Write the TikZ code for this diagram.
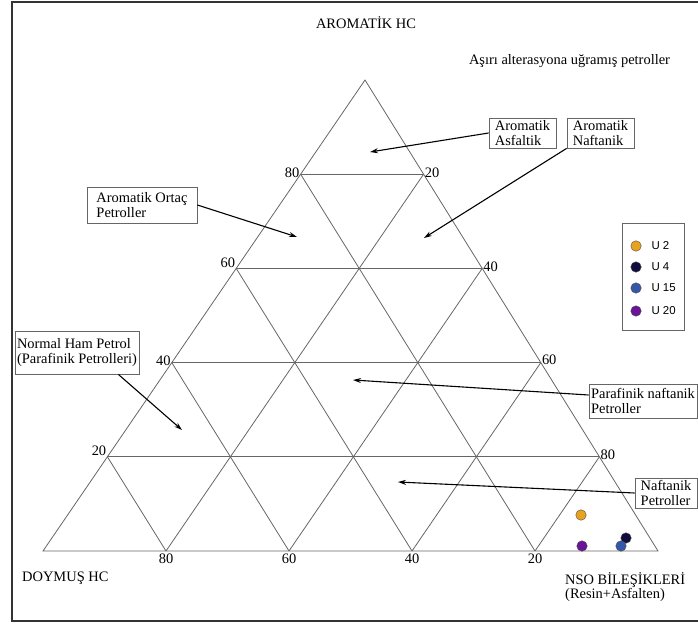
\documentclass[tikz,border=0pt]{standalone}
\usepackage{fontspec}
\setmainfont{Liberation Serif}
\newfontfamily\legendfont{Liberation Sans}
\usetikzlibrary{calc,arrows.meta}
\definecolor{ptorange}{HTML}{E8A21E}
\definecolor{ptnavy}{HTML}{100C3C}
\definecolor{ptblue}{HTML}{3457A8}
\definecolor{ptpurple}{HTML}{6A1598}
\begin{document}
\begin{tikzpicture}[x=1bp,y=-1bp,
    font=\fontsize{14.5}{15.5}\selectfont,
    gridline/.style={draw=black!60,line width=0.8bp},
    scalenum/.style={inner sep=1bp},
    labelbox/.style={draw=black!60,line width=0.8bp,align=left,inner sep=2bp},
    pointer/.style={line width=1.1bp,-{Stealth[length=8bp,width=5bp]}},
    sample/.style={circle,draw=black!70,line width=0.4bp,minimum size=10.5bp,inner sep=0pt},
    legendtext/.style={anchor=west,font=\legendfont\fontsize{11.5}{13}\selectfont}]
    \useasboundingbox (0,0) rectangle (698,628);
    \draw[line width=2bp,draw=black!80] (698,2) -- (12,2) -- (12,621) -- (698,621);
    \coordinate (D) at (43,551);
    \coordinate (N) at (658,551);
    \coordinate (Ar) at (365,80);
    \draw[gridline] (D) -- (N) -- (Ar) -- cycle;
    \draw[gridline] ($(D)!0.2!(Ar)$) -- ($(N)!0.2!(Ar)$);
    \draw[gridline] ($(D)!0.4!(Ar)$) -- ($(N)!0.4!(Ar)$);
    \draw[gridline] ($(D)!0.6!(Ar)$) -- ($(N)!0.6!(Ar)$);
    \draw[gridline] ($(D)!0.8!(Ar)$) -- ($(N)!0.8!(Ar)$);
    \draw[gridline] ($(D)!0.2!(N)$) -- ($(D)!0.2!(Ar)$);
    \draw[gridline] ($(D)!0.4!(N)$) -- ($(D)!0.4!(Ar)$);
    \draw[gridline] ($(D)!0.6!(N)$) -- ($(D)!0.6!(Ar)$);
    \draw[gridline] ($(D)!0.8!(N)$) -- ($(D)!0.8!(Ar)$);
    \draw[gridline] ($(N)!0.2!(D)$) -- ($(N)!0.2!(Ar)$);
    \draw[gridline] ($(N)!0.4!(D)$) -- ($(N)!0.4!(Ar)$);
    \draw[gridline] ($(N)!0.6!(D)$) -- ($(N)!0.6!(Ar)$);
    \draw[gridline] ($(N)!0.8!(D)$) -- ($(N)!0.8!(Ar)$);
    \node[scalenum,anchor=south east] (l20) at ($(D)!0.2!(Ar)$) {20};
    \node[scalenum,anchor=east,yshift=2bp] (l40) at ($(D)!0.4!(Ar)$) {40};
    \node[scalenum,anchor=south east] (l60) at ($(D)!0.6!(Ar)$) {60};
    \node[scalenum,anchor=east,yshift=1bp] (l80) at ($(D)!0.8!(Ar)$) {80};
    \node[scalenum,anchor=west,yshift=2bp] (r80) at ($(N)!0.2!(Ar)$) {80};
    \node[scalenum,anchor=west,yshift=3bp] (r60) at ($(N)!0.4!(Ar)$) {60};
    \node[scalenum,anchor=west,yshift=2bp] (r40) at ($(N)!0.6!(Ar)$) {40};
    \node[scalenum,anchor=west,yshift=1bp] (r20) at ($(N)!0.8!(Ar)$) {20};
    \node[scalenum,anchor=north,yshift=-2bp] (b80) at ($(D)!0.2!(N)$) {80};
    \node[scalenum,anchor=north,yshift=-2bp] (b60) at ($(D)!0.4!(N)$) {60};
    \node[scalenum,anchor=north,yshift=-2bp] (b40) at ($(D)!0.6!(N)$) {40};
    \node[scalenum,anchor=north,yshift=-2bp] (b20) at ($(D)!0.8!(N)$) {20};
    \node (aromhc) at (366,23) {AROMATİK HC};
    \node (alter) at (569.5,61) {Aşırı alterasyona uğramış petroller};
    \node[anchor=west,inner sep=0pt] (doymus) at (22,578) {DOYMUŞ HC};
    \node[anchor=west,inner sep=0pt] (nso) at (565,580) {NSO BİLEŞİKLERİ};
    \node[anchor=west,inner sep=0pt] (resin) at (565,595) {(Resin+Asfalten)};
    \node[labelbox,minimum width=67bp,minimum height=30bp] (asfaltik) at (522.5,133) {Aromatik\\Asfaltik};
    \node[labelbox,minimum width=67bp,minimum height=30bp] (naftarom) at (600.5,133) {Aromatik\\Naftanik};
    \node[labelbox,minimum width=110bp,minimum height=36bp] (ortac) at (142,205) {Aromatik Ortaç\\Petroller};
    \node[labelbox,minimum width=122bp,minimum height=43bp] (normal) at (77,352.5) {Normal Ham Petrol\\(Parafinik Petrolleri)};
    \node[labelbox,minimum width=108bp,minimum height=34bp] (parafinik) at (643,401) {Parafinik naftanik\\Petroller};
    \node[labelbox,minimum width=62bp,minimum height=30bp] (naftanik) at (666,493) {Naftanik\\Petroller};
    \coordinate (asfpt) at (370,152);
    \coordinate (naftpt) at (424,238);
    \coordinate (ortpt) at (297,237);
    \coordinate (normpt) at (182,430);
    \coordinate (parpt) at (353,380);
    \coordinate (naftnpt) at (398,482);
    \draw[pointer] (asfaltik.west) -- (asfpt);
    \draw[pointer] (naftarom.south west) -- (naftpt);
    \draw[pointer] (ortac.east) -- (ortpt);
    \draw[pointer] ([xshift=-21bp]normal.south east) -- (normpt);
    \draw[pointer] ([yshift=6bp]parafinik.west) -- (parpt);
    \draw[pointer] (naftanik.west) -- (naftnpt);
    \node[draw=black!60,line width=0.8bp,minimum width=62bp,minimum height=107bp] (legend) at (653,276.5) {};
    \node[sample,fill=ptorange] (k2) at (636,246) {};
    \node[sample,fill=ptnavy] (k4) at (636,267) {};
    \node[sample,fill=ptblue] (k15) at (636,288) {};
    \node[sample,fill=ptpurple] (k20) at (636,311) {};
    \node[legendtext] (t2) at (648,246) {U 2};
    \node[legendtext] (t4) at (648,267) {U 4};
    \node[legendtext] (t15) at (648,288) {U 15};
    \node[legendtext] (t20) at (648,311) {U 20};
    \node[sample,fill=ptorange] (u2) at (581,515) {};
    \node[sample,fill=ptpurple] (u20) at (582,546) {};
    \node[sample,fill=ptnavy] (u4) at (626,538) {};
    \node[sample,fill=ptblue] (u15) at (621,546) {};
  \end{tikzpicture}
\end{document}
